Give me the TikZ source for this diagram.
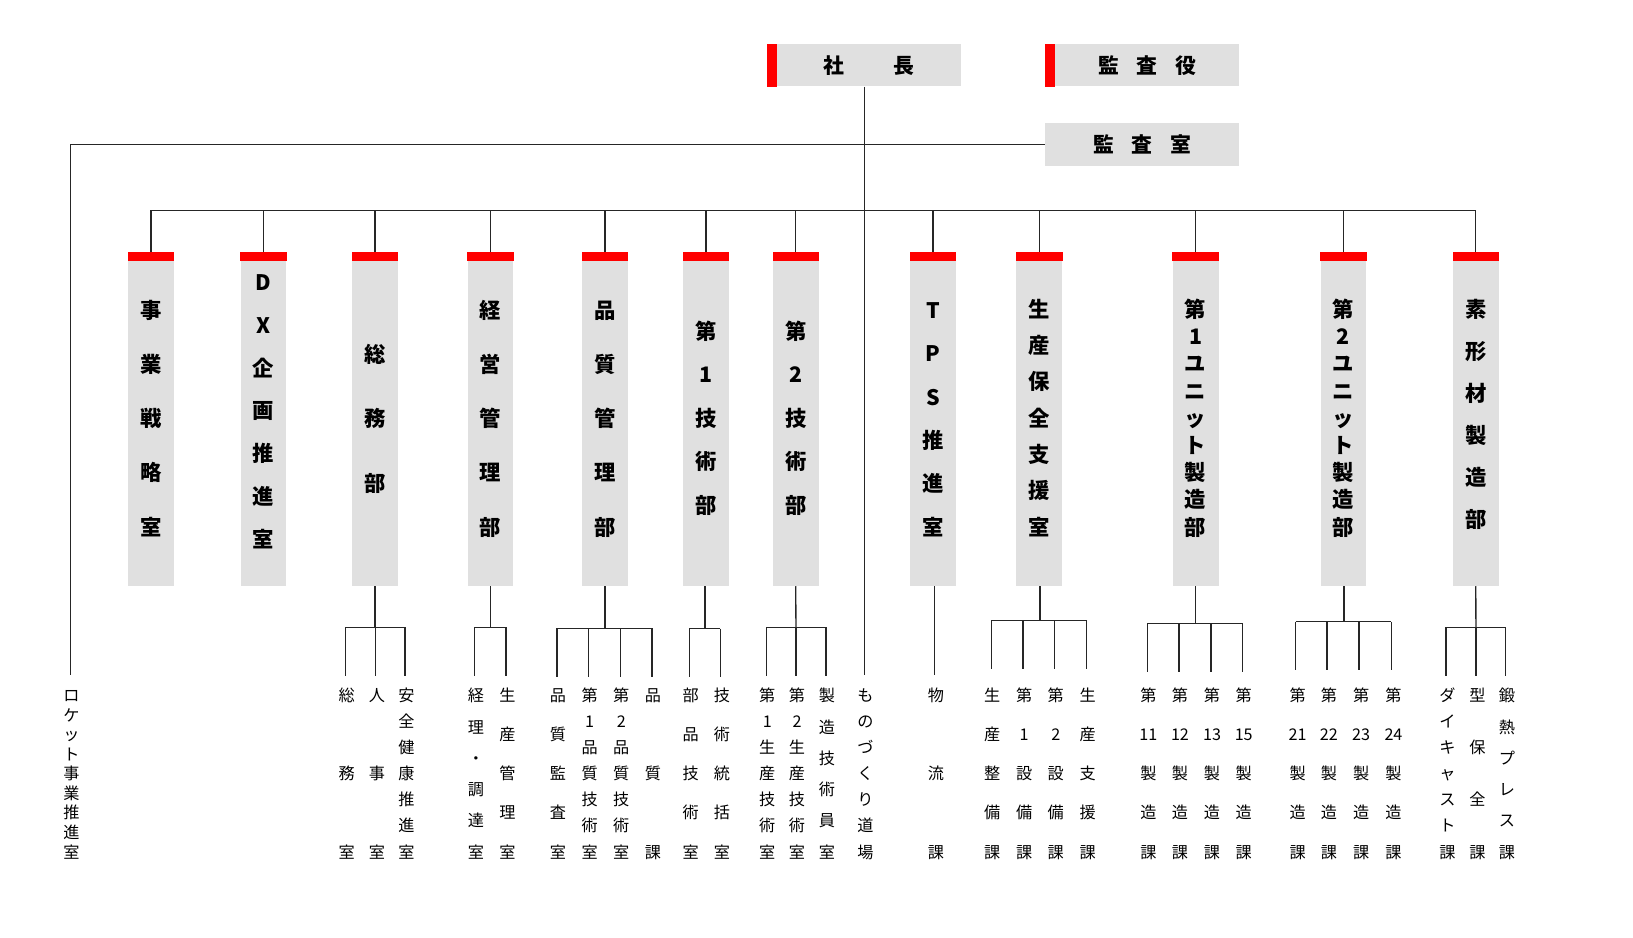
\documentclass[tikz,border=0pt]{standalone}
\usepackage{fontspec}
\setmainfont{Noto Sans CJK JP}
\usepackage{tikz}

\definecolor{panelgray}{HTML}{E0E0E0}
\definecolor{markred}{HTML}{FF0000}

\newcount\charcount
% column of characters spread evenly from a top y to a bottom y
\newcommand{\charcolumn}[6]{%
  \edef\charlist{#6}%
  \global\charcount=0
  \foreach \ch in \charlist {\global\advance\charcount by 1}%
  \pgfmathsetmacro{\charstep}{(#5-(#4))/max(\the\charcount-1,1)}%
  \foreach \ch [count=\k from 0] in \charlist
    \node[#1] (#2-\k) at (#3,{#4+\charstep*\k}) {\ch};%
}

\tikzset{
  link/.style={line width=1.3pt, draw=black!85},
  headbox/.style={fill=panelgray, minimum height=41pt, inner sep=0pt,
    font=\bfseries\fontsize{20}{24}\selectfont, text height=17.6pt, text depth=2.4pt},
  deptbox/.style={fill=panelgray, minimum width=44pt, minimum height=312pt,
    inner sep=0pt, anchor=north},
  depttext/.style={inner sep=0pt, font=\bfseries\fontsize{20.5}{24}\selectfont,
    text height=18pt, text depth=2.5pt},
  subtext/.style={inner sep=0pt, font=\fontsize{15.5}{18}\selectfont,
    text height=13.6pt, text depth=1.9pt},
}

\begin{document}
\begin{tikzpicture}[x=1pt,y=-1pt]
\useasboundingbox (0,0) rectangle (1568,900.6);

% top
\node[headbox, minimum width=177pt] (shacho) at (834.3,62.5) {社\hspace{48pt}長};
\fill[markred] (shacho.north west) rectangle ([xshift=-9.5pt]shacho.south west);
\node[headbox, minimum width=176.6pt] (kansayaku) at (1101.3,62.5) {監\hspace{17pt}査\hspace{17pt}役\hspace{8pt}};
\fill[markred] (kansayaku.north west) rectangle ([xshift=-9.5pt]kansayaku.south west);
\node[headbox, minimum width=186pt] (kansashitsu) at (1096.5,138.9) {監\hspace{17pt}査\hspace{17pt}室};

\coordinate (bus) at (830,202);
\coordinate (dojo) at (830,648);
\coordinate (rocket) at (68,648);
\draw[link] (shacho.south -| dojo) -- (dojo);
\draw[link] (kansashitsu.west) -| (rocket);
\charcolumn{subtext}{rocket}{68.5}{668}{818}{ロ,ケ,ッ,ト,事,業,推,進,室}
\charcolumn{subtext}{dojo}{831}{668}{818}{も,の,づ,く,り,道,場}

% departments
\foreach \nm/\cx/\ya/\yb/\lbl in {
  jigyo/145/298/506/{事,業,戦,略,室},
  dx/253/271/518/{D,X,企,画,推,進,室},
  somu/360/340/464/{総,務,部},
  keiei/471/298/506/{経,営,管,理,部},
  hinshitsu/581/298/506/{品,質,管,理,部},
  gijutsua/678/318/485/{第,1,技,術,部},
  gijutsub/764/318/485/{第,2,技,術,部},
  tps/896/298/506/{T,P,S,推,進,室},
  hozen/998/297/506/{生,産,保,全,支,援,室},
  unita/1148/297/506/{第,1,ユ,ニ,ッ,ト,製,造,部},
  unitb/1290/297/506/{第,2,ユ,ニ,ッ,ト,製,造,部},
  sokei/1417/297/499/{素,形,材,製,造,部}}{
  \node[deptbox] (\nm) at (\cx,250.5) {};
  \fill[markred] ([yshift=8.5pt]\nm.north west) rectangle (\nm.north east);
  \draw[link] (\nm.north |- bus) -- ([yshift=8.5pt]\nm.north);
  \charcolumn{depttext}{\nm}{\cx}{\ya}{\yb}{\lbl}
}
\draw[link] (jigyo.north |- bus) -- (sokei.north |- bus);

% 総務部
\coordinate (somu-bus) at (360,602.3);
\draw[link] (somu.south) -- (somu-bus);
\foreach \id/\dx/\lbl in {a/331.5/{総,務,室}, b/360.5/{人,事,室}, c/388.8/{安,全,健,康,推,進,室}}{
  \coordinate (somu-\id) at (\dx,648.7);
  \draw[link] (somu-\id |- somu-bus) -- (somu-\id);
  \charcolumn{subtext}{somu-\id}{\dx+1.5}{668}{818}{\lbl}
}
\draw[link] (somu-a |- somu-bus) -- (somu-c |- somu-bus);

% 経営管理部
\coordinate (keiei-bus) at (471,602.3);
\draw[link] (keiei.south) -- (keiei-bus);
\foreach \id/\dx/\lbl in {a/455.4/{経,理,・,調,達,室}, b/485.7/{生,産,管,理,室}}{
  \coordinate (keiei-\id) at (\dx,648.7);
  \draw[link] (keiei-\id |- keiei-bus) -- (keiei-\id);
  \charcolumn{subtext}{keiei-\id}{\dx+1.5}{668}{818}{\lbl}
}
\draw[link] (keiei-a |- keiei-bus) -- (keiei-b |- keiei-bus);

% 品質管理部
\coordinate (hinshitsu-bus) at (581,603.4);
\draw[link] (hinshitsu.south) -- (hinshitsu-bus);
\foreach \id/\dx/\lbl in {a/534.8/{品,質,監,査,室}, b/565.2/{第,1,品,質,技,術,室},
    c/595.5/{第,2,品,質,技,術,室}, d/626/{品,質,課}}{
  \coordinate (hinshitsu-\id) at (\dx,649.7);
  \draw[link] (hinshitsu-\id |- hinshitsu-bus) -- (hinshitsu-\id);
  \charcolumn{subtext}{hinshitsu-\id}{\dx+1}{668}{818}{\lbl}
}
\draw[link] (hinshitsu-a |- hinshitsu-bus) -- (hinshitsu-d |- hinshitsu-bus);

% 第1技術部
\coordinate (gijutsua-bus) at (677,603.6);
\draw[link] (gijutsua.south -| gijutsua-bus) -- (gijutsua-bus);
\foreach \id/\dx/\lbl in {a/661.8/{部,品,技,術,室}, b/691.8/{技,術,統,括,室}}{
  \coordinate (gijutsua-\id) at (\dx,649.7);
  \draw[link] (gijutsua-\id |- gijutsua-bus) -- (gijutsua-\id);
  \charcolumn{subtext}{gijutsua-\id}{\dx+1.5}{668}{818}{\lbl}
}
\draw[link] (gijutsua-a |- gijutsua-bus) -- (gijutsua-b |- gijutsua-bus);

% 第2技術部
\coordinate (gijutsub-bus) at (764.3,602.3);
\draw[link] (gijutsub.south) -- (gijutsub-bus);
\foreach \id/\dx/\lbl in {a/735.7/{第,1,生,産,技,術,室}, b/764.3/{第,2,生,産,技,術,室},
    c/793.1/{製,造,技,術,員,室}}{
  \coordinate (gijutsub-\id) at (\dx,648.7);
  \draw[link] (gijutsub-\id |- gijutsub-bus) -- (gijutsub-\id);
  \charcolumn{subtext}{gijutsub-\id}{\dx+1}{668}{818}{\lbl}
}
\draw[link] (gijutsub-a |- gijutsub-bus) -- (gijutsub-c |- gijutsub-bus);

% TPS推進室
\coordinate (tps-a) at (897,648.5);
\draw[link] (tps.south -| tps-a) -- (tps-a);
\charcolumn{subtext}{tps-a}{898.7}{668}{818}{物,流,課}

% 生産保全支援室
\coordinate (hozen-bus) at (998.6,595.6);
\draw[link] (hozen.south -| hozen-bus) -- (hozen-bus);
\foreach \id/\dx/\lbl in {a/951.8/{生,産,整,備,課}, b/982.3/{第,1,設,備,課},
    c/1012.7/{第,2,設,備,課}, d/1043.4/{生,産,支,援,課}}{
  \coordinate (hozen-\id) at (\dx,642.6);
  \draw[link] (hozen-\id |- hozen-bus) -- (hozen-\id);
  \charcolumn{subtext}{hozen-\id}{\dx+1}{668}{818}{\lbl}
}
\draw[link] (hozen-a |- hozen-bus) -- (hozen-d |- hozen-bus);

% 第1ユニット製造部
\coordinate (unita-bus) at (1148,598.8);
\draw[link] (unita.south) -- (unita-bus);
\foreach \id/\dx/\lbl in {a/1101.6/{第,11,製,造,課}, b/1132/{第,12,製,造,課},
    c/1162.8/{第,13,製,造,課}, d/1193.2/{第,15,製,造,課}}{
  \coordinate (unita-\id) at (\dx,645.5);
  \draw[link] (unita-\id |- unita-bus) -- (unita-\id);
  \charcolumn{subtext}{unita-\id}{\dx+1}{668}{818}{\lbl}
}
\draw[link] (unita-a |- unita-bus) -- (unita-d |- unita-bus);

% 第2ユニット製造部
\coordinate (unitb-bus) at (1290.5,597);
\draw[link] (unitb.south -| unitb-bus) -- (unitb-bus);
\foreach \id/\dx/\lbl in {a/1244/{第,21,製,造,課}, b/1274/{第,22,製,造,課},
    c/1305/{第,23,製,造,課}, d/1336/{第,24,製,造,課}}{
  \coordinate (unitb-\id) at (\dx,643.5);
  \draw[link] (unitb-\id |- unitb-bus) -- (unitb-\id);
  \charcolumn{subtext}{unitb-\id}{\dx+2}{668}{818}{\lbl}
}
\draw[link] (unitb-a |- unitb-bus) -- (unitb-d |- unitb-bus);

% 素形材製造部
\coordinate (sokei-bus) at (1417.2,602.3);
\draw[link] (sokei.south) -- (sokei-bus);
\foreach \id/\dx/\lbl in {a/1388.4/{ダ,イ,キ,ャ,ス,ト,課}, b/1417.2/{型,保,全,課},
    c/1445.7/{鍛,熱,プ,レ,ス,課}}{
  \coordinate (sokei-\id) at (\dx,648.8);
  \draw[link] (sokei-\id |- sokei-bus) -- (sokei-\id);
  \charcolumn{subtext}{sokei-\id}{\dx+1.3}{668}{818}{\lbl}
}
\draw[link] (sokei-a |- sokei-bus) -- (sokei-c |- sokei-bus);
\end{tikzpicture}
\end{document}
